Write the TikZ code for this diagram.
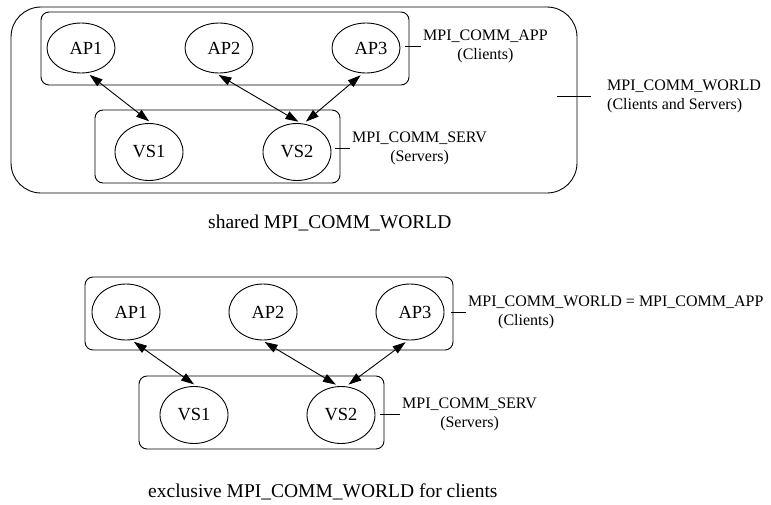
\documentclass[tikz,border=0pt]{standalone}
\usepackage{fontspec}
\setmainfont{Liberation Serif}
\usetikzlibrary{arrows.meta,calc,shapes.geometric}
\tikzset{
		edgeStyle/.style = {line width=0.9pt, {Triangle[length=13pt,width=8.5pt]}-{Triangle[length=13pt,width=8.5pt]}, shorten <=3pt, shorten >=3pt},
		tickStyle/.style = {line width=0.9pt},
		procNode/.style = {ellipse, draw, line width=0.9pt, inner sep=0pt, minimum width=68pt, font=\fontsize{18.5}{20}\selectfont},
		apNode/.style = {procNode, minimum height=50pt, execute at begin node=\hspace*{10pt}},
		vsNode/.style = {procNode, minimum height=57pt},
		commBox/.style = {draw, line width=0.9pt, rounded corners=8pt, inner sep=0pt, minimum width=368pt, minimum height=73pt},
		servBox/.style = {commBox, minimum width=245pt},
		worldBox/.style = {draw, line width=0.9pt, rounded corners=30pt, inner sep=0pt, minimum width=566pt, minimum height=186pt},
		commLabel/.style = {inner sep=2pt, anchor=west, font=\fontsize{16}{19}\selectfont},
		capStyle/.style = {inner sep=0pt, anchor=base west, font=\fontsize{19.5}{22}\selectfont}
}

\begin{document}
\begin{tikzpicture}[x=1pt,y=-1pt]
  \useasboundingbox (0,0) rectangle (771,504);

  % shared MPI_COMM_WORLD
  \node [worldBox] (world) at (294,100) {};
  \node [commBox]  (app)   at (225,48.5) {};
  \node [servBox]  (serv)  at (217.5,146.5) {};
  \foreach \i/\x in {1/81,2/219,3/366}
     \node [apNode] (ap\i) at (\x,48) {AP\i};
  \foreach \i/\x in {1/149,2/297}
     \node [vsNode] (vs\i) at (\x,152) {VS\i};
  \draw [edgeStyle] (ap1.-76) -- (vs1.85);
  \draw [edgeStyle] (ap2.-97) -- (vs2.82);
  \draw [edgeStyle] (ap3.-97) -- (vs2.77);

  \node [commLabel, align=center] (appLbl)   at (421,46)  {MPI\_COMM\_APP\\(Clients)};
  \node [commLabel, align=left]   (worldLbl) at (605,96)  {MPI\_COMM\_WORLD\\(Clients and Servers)};
  \node [commLabel, align=center] (servLbl)  at (350,148) {MPI\_COMM\_SERV\\(Servers)};
  \draw [tickStyle] ($(app.east |- appLbl.west)+(-4,0)$) -- (appLbl.west);
  \draw [tickStyle] ($(world.east |- worldLbl.west)+(-20,0)$) -- ($(worldLbl.west)+(-14,0)$);
  \draw [tickStyle] ($(serv.east |- servLbl.west)+(-5,0)$) -- (servLbl.west);
  \node [capStyle] (sharedCap) at (208,228) {shared MPI\_COMM\_WORLD};

  % exclusive MPI_COMM_WORLD
  \node [commBox] (appB)  at (269,313.5) {};
  \node [servBox] (servB) at (261.5,412.5) {};
  \foreach \i/\x in {1/126,2/263,3/410}
     \node [apNode, minimum height=56pt] (bap\i) at (\x,312) {AP\i};
  \foreach \i/\x in {1/194,2/341}
     \node [vsNode] (bvs\i) at (\x,415) {VS\i};
  \draw [edgeStyle] (bap1.-79) -- (bvs1.85);
  \draw [edgeStyle] (bap2.-92) -- (bvs2.95);
  \draw [edgeStyle] (bap3.-94) -- (bvs2.80);

  \node [commLabel, align=left]   (appBLbl)  at (466,312.5) {MPI\_COMM\_WORLD = MPI\_COMM\_APP\\\hspace*{30pt}(Clients)};
  \node [commLabel, align=center] (servBLbl) at (400,414.5) {MPI\_COMM\_SERV\\(Servers)};
  \draw [tickStyle] ($(appB.east |- appBLbl.west)+(-2,0)$) -- (appBLbl.west);
  \draw [tickStyle] ($(servB.east |- servBLbl.west)+(-4,0)$) -- (servBLbl.west);
  \node [capStyle] (exclCap) at (148,497) {exclusive MPI\_COMM\_WORLD for clients};
\end{tikzpicture}
\end{document}
